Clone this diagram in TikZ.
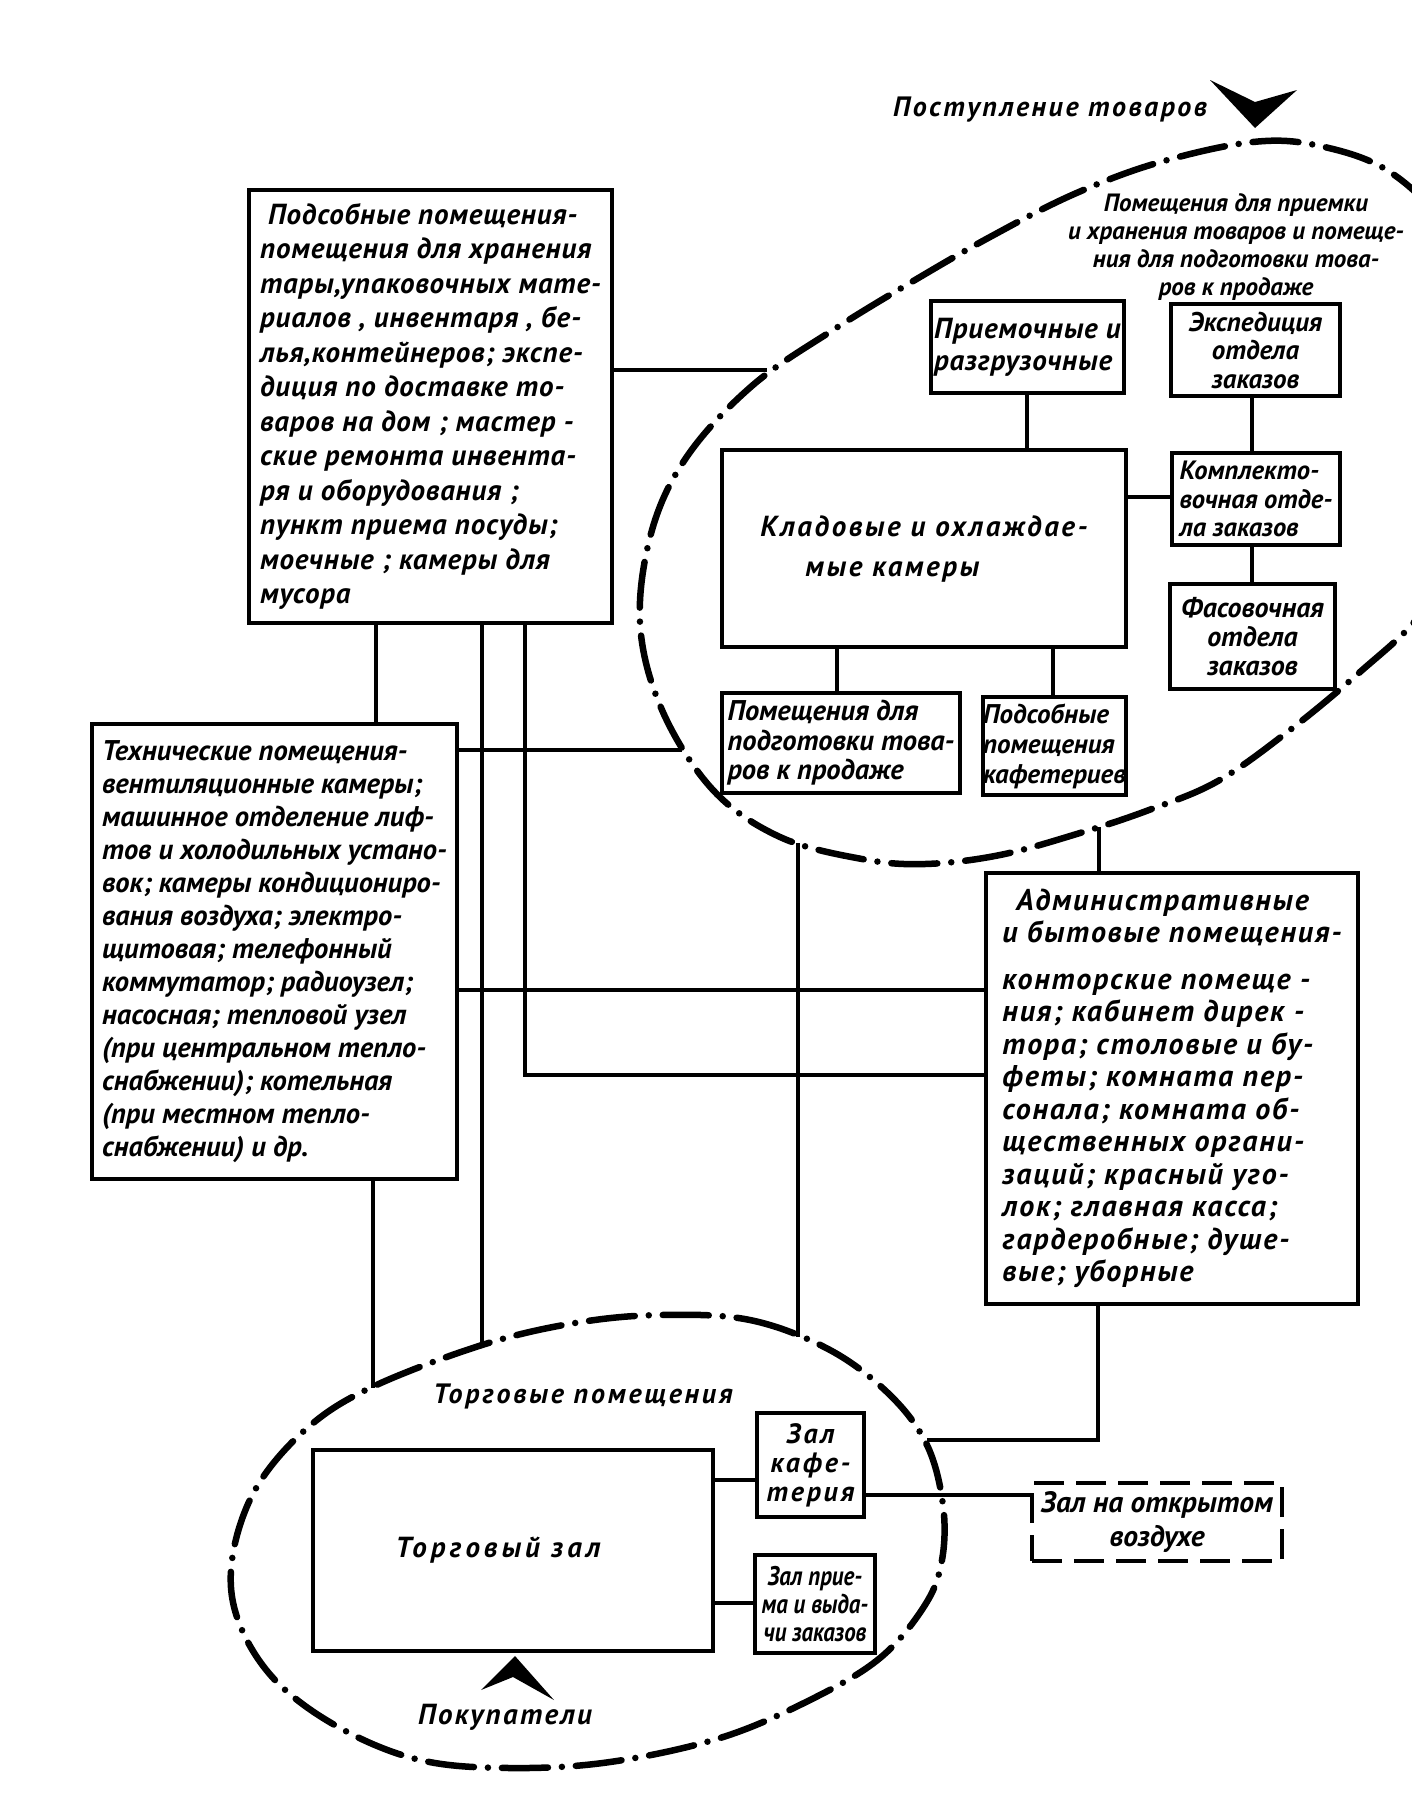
\documentclass[tikz,border=0pt]{standalone}
\usepackage{fontspec}
\setmainfont{PT Sans}
\newfontfamily\narrowf{PT Sans}[FakeStretch=0.85]
\usetikzlibrary{calc}
\newcommand\fs[2]{\fontsize{#1}{#2}\selectfont\bfseries\itshape}
\newcommand\lsp[1]{\addfontfeatures{LetterSpace=#1}}
\begin{document}
\begin{tikzpicture}[x=1pt,y=-1pt,
  box/.style={draw, line width=3.4pt, inner sep=0pt, align=left},
  cbox/.style={draw, line width=3.4pt, inner sep=0pt, align=center},
  conn/.style={line width=3.4pt},
  ring/.style={line width=6.5pt, dash pattern=on 46pt off 14pt on 0pt off 14pt, line cap=round},
  lbl/.style={inner sep=0pt, align=center}]
\useasboundingbox (0,0) rectangle (1412,1802);
\clip (0,0) rectangle (1412,1802);

% ---------- boxes ----------
\node[box, minimum width=363pt, minimum height=433pt, font=\fs{29}{34.5}\lsp{3}] (A) at (430.5,406.5)
 {\hspace*{8pt}Подсобные помещения-\\помещения для хранения\\тары,упаковочных мате-\\риалов , инвентаря , бе-\\лья,контейнеров; экспе-\\диция по доставке то-\\варов на дом ; мастер -\\ские ремонта инвента-\\ря и оборудования ;\\пункт приема посуды;\\моечные ; камеры для\\мусора};

\node[box, minimum width=365pt, minimum height=455pt, font=\fs{28.5}{33}] (T) at (274.5,951.5)
 {Технические помещения-\\вентиляционные камеры;\\машинное отделение лиф-\\тов и холодильных устано-\\вок; камеры кондициониро-\\вания воздуха; электро-\\щитовая; телефонный\\коммутатор; радиоузел;\\насосная; тепловой узел\\(при центральном тепло-\\снабжении); котельная\\(при местном тепло-\\снабжении) и др.};

\node[box, minimum width=372pt, minimum height=431pt, font=\fs{30}{32.5}\lsp{6}] (Adm) at (1172,1088.5)
 {\hspace*{14pt}Административные\\и бытовые помещения-\\[14pt]конторские помеще -\\ния; кабинет дирек -\\тора; столовые и бу-\\феты; комната пер-\\сонала; комната об-\\щественных органи-\\заций; красный уго-\\лок; главная касса;\\гардеробные; душе-\\вые; уборные};

\node[box, minimum width=193pt, minimum height=92pt, font=\fs{29}{32}\lsp{3}] (Priem) at (1027.5,347)
 {Приемочные и\\разгрузочные};
\node[cbox, minimum width=169pt, minimum height=92pt, font=\fs{27}{28.5}] (Eksp) at (1255.5,350)
 {Экспедиция\\отдела\\заказов};
\node[box, minimum width=404pt, minimum height=197pt, font=\fs{29}{40}\lsp{9}] (Klad) at (924,548.5)
 {Кладовые и охлаждае-\\\hspace*{45pt}мые камеры};
\node[box, minimum width=168pt, minimum height=92pt, font=\fs{26.5}{28.5}] (Kompl) at (1256,499)
 {Комплекто-\\вочная отде-\\ла заказов};
\node[cbox, minimum width=165pt, minimum height=105pt, font=\fs{28}{29}] (Fasov) at (1252.5,636.5)
 {Фасовочная\\отдела\\заказов};
\node[box, minimum width=238pt, minimum height=100pt, font=\fs{28.5}{29.5}] (Pomp) at (841,743)
 {Помещения для\\подготовки това-\\ров к продаже};
\node[box, minimum width=143pt, minimum height=98pt, font=\fs{27}{30}] (Podk) at (1054.5,746)
 {Подсобные\\помещения\\кафетериев};

\node[cbox, minimum width=400pt, minimum height=201pt, font=\fs{29}{34}\lsp{14}] (Torg) at (513,1550.5)
 {\hspace*{-30pt}Торговый зал};
\node[cbox, minimum width=107pt, minimum height=104pt, font=\fs{28}{29}\lsp{10}] (Kaf) at (810.5,1465)
 {Зал\\кафе-\\терия};
\node[cbox, minimum width=120pt, minimum height=98pt, font=\narrowf\fs{27}{28}] (Priv) at (815,1604)
 {Зал прие-\\ма и выда-\\чи заказов};
\node[draw, line width=3.4pt, dash pattern=on 30pt off 12pt, inner sep=0pt, align=center,
      minimum width=250pt, minimum height=78pt, font=\fs{29.5}{34}] (Otkr) at (1157,1522)
 {Зал на открытом\\воздухе};

% ---------- labels ----------
\node[lbl, font=\fs{28}{32}\lsp{9}] (postup) at (1050,110) {Поступление товаров};
\node[lbl, font=\fs{25}{28}] (zone1) at (1236,247)
 {Помещения для приемки\\и хранения товаров и помеще-\\ния для подготовки това-\\ров к продаже};
\node[lbl, font=\fs{28}{32}\lsp{10}] (zone2) at (583,1396) {Торговые помещения};
\node[lbl, font=\fs{29}{32}\lsp{8}] (buyers) at (505,1717) {Покупатели};

% ---------- arrows (chevrons) ----------
\fill (1210,80) -- (1255,128) -- (1297,90) -- (1255,102) -- cycle;
\fill (515,1656) -- (481,1690) -- (513,1677) -- (554,1700) -- cycle;

% ---------- zone outlines ----------
\draw[ring] plot[smooth cycle, tension=0.6] coordinates {
 (640,623) (652,530) (688,455) (753,385) (833,330) (915,280) (990,237) (1072,195)
 (1157,163) (1253,142) (1320,146) (1390,172) (1445,230) (1478,330) (1482,440)
 (1458,545) (1420,615) (1360,672) (1290,730) (1218,781) (1149,810) (1080,833)
 (1000,855) (925,864) (862,859) (780,837) (713,790) (662,710)};
\draw[ring] plot[smooth cycle, tension=0.6] coordinates {
 (660,1315) (750,1320) (830,1350) (890,1395) (927,1445) (943,1505) (942,1560)
 (925,1605) (880,1658) (810,1700) (720,1738) (610,1762) (510,1768) (420,1760)
 (340,1728) (275,1680) (238,1620) (232,1560) (255,1490) (305,1430) (370,1388)
 (482,1345) (575,1323)};

% ---------- points on the outlines and helper coordinates ----------
\coordinate (e1) at (767,370);
\coordinate (u2) at (682,750);
\coordinate (u3) at (798,843);
\coordinate (u4) at (1099,827);
\coordinate (l1) at (482,1345);
\coordinate (l2) at (373,1388);
\coordinate (l3) at (798,1337);
\coordinate (l4) at (927,1440);
\coordinate (x376) at (376,0);
\coordinate (j4) at (525,1075);
\coordinate (y990) at (0,990);
\coordinate (x1098) at (1098,0);
\coordinate (y1495) at (0,1495);
\coordinate (y1480) at (0,1480);
\coordinate (y1603) at (0,1603);
\coordinate (x1027) at (1027,0);
\coordinate (x1252) at (1252,0);
\coordinate (y497) at (0,497);
\coordinate (x837) at (837,0);
\coordinate (x1053) at (1053,0);

% ---------- connectors ----------
\draw[conn] (e1 -| A.east) -- (e1);
\draw[conn] (x376 |- A.south) -- (x376 |- T.north);
\draw[conn] (l1 |- A.south) -- (l1);
\draw[conn] (j4 |- A.south) -- (j4) -- (j4 -| Adm.west);
\draw[conn] (u2 -| T.east) -- (u2);
\draw[conn] (y990 -| T.east) -- (y990 -| Adm.west);
\draw[conn] (l2 |- T.south) -- (l2);
\draw[conn] (u3) -- (l3);
\draw[conn] (u4) -- (u4 |- Adm.north);
\draw[conn] (x1098 |- Adm.south) |- (l4);
\draw[conn] (y1495 -| Kaf.east) -- (y1495 -| Otkr.west);
\draw[conn] (y1480 -| Torg.east) -- (y1480 -| Kaf.west);
\draw[conn] (y1603 -| Torg.east) -- (y1603 -| Priv.west);
\draw[conn] (x1027 |- Priem.south) -- (x1027 |- Klad.north);
\draw[conn] (x1252 |- Eksp.south) -- (x1252 |- Kompl.north);
\draw[conn] (y497 -| Klad.east) -- (y497 -| Kompl.west);
\draw[conn] (x1252 |- Kompl.south) -- (x1252 |- Fasov.north);
\draw[conn] (x837 |- Klad.south) -- (x837 |- Pomp.north);
\draw[conn] (x1053 |- Klad.south) -- (x1053 |- Podk.north);
\end{tikzpicture}
\end{document}
